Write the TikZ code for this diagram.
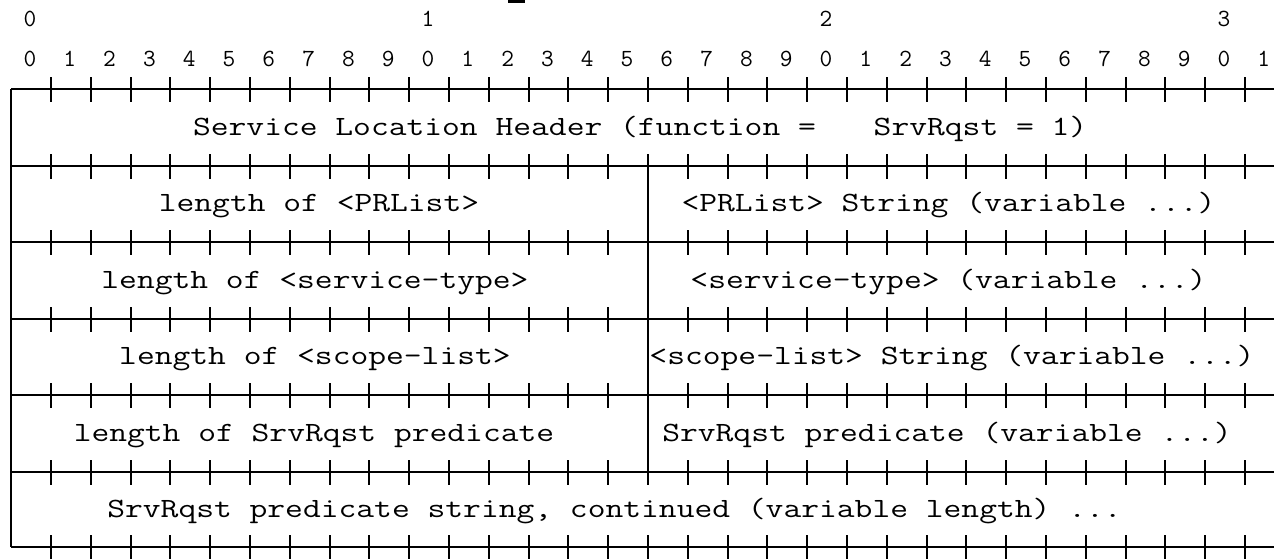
\documentclass[tikz,border=0pt]{standalone}
\usepackage{fontspec}
% typewriter faces: widened one for the field names, plain one for the bit ruler
\newfontfamily\fieldfont[FakeStretch=1.24]{Latin Modern Mono}
\newfontfamily\bitfont{Latin Modern Mono}

\begin{document}
\begin{tikzpicture}[x=0.75pt,y=-0.75pt,
  rule/.style={line width=1.5pt},
  tickmark/.style={line width=1.5pt},
  field/.style={font=\fieldfont\fontsize{20.9}{20.9}\selectfont, anchor=base, inner sep=0pt},
  bitnum/.style={font=\bitfont\fontsize{18.5}{18.5}\selectfont, anchor=base, inner sep=0pt}]
\useasboundingbox (0,0) rectangle (1274,558);

% clipped mark at the top edge
\fill (508,0) rectangle (525,3);

% bit ruler: tens and units
\node[bitnum] (t0) at (30,26.7) {0};
\node[bitnum] (t1) at (428,26.7) {1};
\node[bitnum] (t2) at (826,26.7) {2};
\node[bitnum] (t3) at (1224,26.7) {3};
\foreach \k in {0,...,31}{
  \pgfmathtruncatemacro{\d}{mod(\k,10)}
  \node[bitnum] (u\k) at ({30+39.8*\k},66.7) {\d};
}

% horizontal rules with a tick at every bit boundary
\foreach \y in {89,166,242,319,395,472,547}{
  \draw[rule] (11,\y) -- (1274,\y);
  \foreach \k in {1,...,31}{
    \draw[tickmark] ({51+39.8*(\k-1)},\y-12) -- ++(0,25);
  }
}

% left border and the 16-bit split
\draw[rule] (11,89) -- (11,547);
\draw[rule] (648,166) -- (648,472);

% field labels
\node[field] (hdrA) at (504.5,135) {Service Location Header (function =};
\node[field] (hdrB) at (980.5,135) {SrvRqst = 1)};

\node[field] (prlen) at (319,211.5) {length of <PRList>};
\node[field] (prstr) at (948.5,211.5) {<PRList> String (variable ...)};

\node[field] (stlen) at (315,288) {length of <service-type>};
\node[field] (ststr) at (948.5,288) {<service-type> (variable ...)};

\node[field] (sclen) at (315,364.5) {length of <scope-list>};
\node[field] (scstr) at (952,364.5) {<scope-list> String (variable ...)};

\node[field] (pdlen) at (314,441) {length of SrvRqst predicate};
\node[field] (pdstr) at (947,441) {SrvRqst predicate (variable ...)};

\node[field] (pdcont) at (614.5,517) {SrvRqst predicate string, continued (variable length) ...};
\end{tikzpicture}
\end{document}
